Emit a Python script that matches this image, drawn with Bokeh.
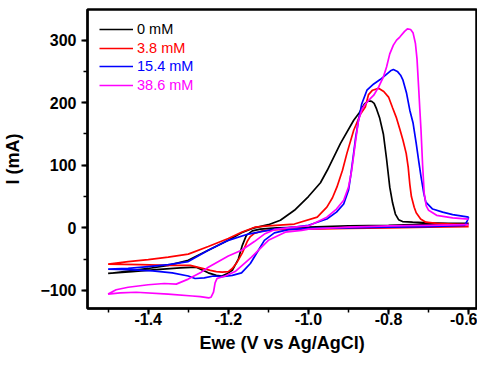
from bokeh.plotting import figure
from bokeh.models import (Range1d, SingleIntervalTicker, Legend, LegendItem, PrintfTickFormatter)
from bokeh.embed import file_html
from bokeh.resources import INLINE

# ---- data ----
# 0 mM
v_0mM = [-0.600, -0.700, -0.800, -0.900, -1.000, -1.080, -1.120, -1.140, -1.155, -1.165, -1.175,
         -1.190, -1.205, -1.216, -1.230, -1.250, -1.280, -1.320, -1.380, -1.440, -1.500,
         -1.450, -1.400, -1.350, -1.300, -1.250, -1.200, -1.167, -1.140, -1.100, -1.070, -1.035,
         -1.000, -0.970, -0.953, -0.920, -0.887, -0.873, -0.860, -0.850, -0.842, -0.836, -0.830,
         -0.822, -0.813, -0.805, -0.797, -0.790, -0.783, -0.775, -0.765, -0.740, -0.700, -0.650, -0.600]
i_0mM = [7, 6, 4, 3, 1, 0, -2, -5, -12, -28, -50,
         -68, -74, -77, -76, -72, -63, -64, -67, -70, -73,
         -69, -65, -60, -52, -36, -20, -8, -1, 5, 12, 28,
         50, 72, 92, 135, 172, 184, 198, 203, 202, 199, 190,
         175, 150, 110, 65, 40, 22, 13, 10, 9, 8, 7, 7]

# 3.8 mM
v_38mM = [-0.600, -0.700, -0.800, -0.900, -1.000, -1.080, -1.115, -1.135, -1.145, -1.153, -1.165,
          -1.178, -1.190, -1.200, -1.215, -1.230, -1.245, -1.270, -1.295, -1.350, -1.420, -1.500,
          -1.450, -1.400, -1.350, -1.300, -1.250, -1.200, -1.167, -1.134, -1.100, -1.035, -0.978,
          -0.954, -0.940, -0.929, -0.915, -0.904, -0.887, -0.870, -0.858, -0.850, -0.840, -0.825,
          -0.812, -0.800, -0.790, -0.781, -0.772, -0.764, -0.756, -0.751, -0.747, -0.743, -0.736,
          -0.731, -0.720, -0.707, -0.680, -0.640, -0.600]
i_38mM = [2, 1, 0, -1, -2, -3, -5, -9, -14, -22, -40,
          -55, -65, -70, -71, -70, -68, -64, -60, -60, -59, -58,
          -54, -51, -47, -42, -30, -17, -7, 1, 3, 6, 17,
          33, 48, 65, 92, 119, 156, 182, 193, 213, 220, 223,
          218, 209, 192, 177, 158, 140, 119, 97, 70, 50, 33,
          24, 14, 9, 7, 6, 5]

# 15.4 mM
v_154mM = [-0.600, -0.603, -0.610, -0.700, -0.800, -0.900, -1.000, -1.050, -1.085, -1.110, -1.126,
           -1.145, -1.167, -1.190, -1.216, -1.237, -1.260, -1.283, -1.300, -1.340, -1.389, -1.450, -1.500,
           -1.450, -1.400, -1.350, -1.300, -1.250, -1.200, -1.150, -1.085, -1.035, -1.000, -0.954,
           -0.930, -0.912, -0.900, -0.895, -0.888, -0.882, -0.875, -0.867, -0.854, -0.837, -0.821,
           -0.806, -0.795, -0.788, -0.778, -0.770, -0.764, -0.755, -0.747, -0.739, -0.731, -0.725,
           -0.719, -0.712, -0.707, -0.690, -0.665, -0.640, -0.600]
i_154mM = [17, 12, 4, 2, 1, 0, -1, -3, -8, -20, -37,
           -57, -72, -76, -78, -77, -80, -81, -77, -72, -69, -67, -66,
           -65, -62, -59, -54, -36, -20, -10, -2, 1, 4, 14,
           25, 38, 60, 81, 115, 145, 172, 198, 220, 230, 237,
           245, 251, 253, 250, 244, 236, 215, 188, 168, 135, 108,
           82, 55, 41, 30, 25, 21, 17]

# 38.6 mM
v_386mM = [-0.600, -0.700, -0.800, -0.900, -1.000, -1.017, -1.058, -1.100, -1.142, -1.183, -1.208,
           -1.228, -1.233, -1.237, -1.243, -1.249, -1.270, -1.290, -1.350, -1.430, -1.470, -1.500,
           -1.480, -1.450, -1.400, -1.360, -1.330, -1.300, -1.270, -1.250, -1.200, -1.167, -1.135,
           -1.110, -1.085, -1.035, -1.000, -0.954, -0.930, -0.912, -0.900, -0.892, -0.882, -0.875,
           -0.866, -0.858, -0.845, -0.837, -0.825, -0.813, -0.805, -0.797, -0.788, -0.780, -0.772,
           -0.760, -0.753, -0.745, -0.739, -0.733, -0.729, -0.725, -0.722, -0.719, -0.715, -0.711,
           -0.706, -0.700, -0.680, -0.640, -0.600]
i_386mM = [5, 4, 3, 1, -2, -4, -7, -20, -47, -70, -77,
           -81, -88, -103, -111, -112, -110, -109, -106, -103, -104, -106,
           -99, -95, -91, -89, -90, -82, -72, -63, -45, -36, -22,
           -10, -3, 1, 3, 17, 30, 44, 65, 92, 140, 172,
           190, 198, 207, 212, 225, 241, 257, 278, 292, 300, 305,
           314, 318, 317, 312, 295, 270, 225, 190, 156, 100, 55,
           35, 28, 20, 16, 14]

labels = ["0 mM", "3.8 mM", "15.4 mM", "38.6 mM"]
colors = ["#000000", "#ff0000", "#0000ff", "#ff00ff"]
series = [(v_0mM, i_0mM), (v_38mM, i_38mM), (v_154mM, i_154mM), (v_386mM, i_386mM)]

x_start, x_end = -1.5515, -0.578
y_start, y_end = -129, 349

FONT = "Liberation Sans"

p = figure(width=477, height=355, output_backend="svg", toolbar_location=None,
           x_range=Range1d(x_start, x_end), y_range=Range1d(y_start, y_end),
           min_border_left=83, min_border_right=0, min_border_top=9, min_border_bottom=46)
# frame outline supplies the thick top border of the original
p.outline_line_color = "black"
p.outline_line_width = 2.5
p.background_fill_color = "white"
p.border_fill_color = "white"
p.xgrid.grid_line_color = None
p.ygrid.grid_line_color = None

renderers = []
for (vx, iy), c in zip(series, colors):
    r = p.line(vx, iy, line_color=c, line_width=1.7)
    renderers.append(r)

p.xaxis.ticker = SingleIntervalTicker(interval=0.2, num_minor_ticks=2)
p.yaxis.ticker = SingleIntervalTicker(interval=100, num_minor_ticks=2)
p.xaxis.formatter = PrintfTickFormatter(format="%.1f")

for ax in (p.xaxis[0], p.yaxis[0]):
    ax.axis_line_width = 2
    ax.major_tick_line_width = 2
    ax.minor_tick_line_width = 1.5
    ax.major_tick_in = 0
    ax.major_tick_out = 6
    ax.minor_tick_in = 0
    ax.minor_tick_out = 4
    ax.major_label_text_font = FONT
    ax.major_label_text_font_style = "bold"
    ax.major_label_text_font_size = "16px"
    ax.major_label_text_color = "black"
    ax.axis_label_text_font = FONT
    ax.axis_label_text_font_style = "bold"
    ax.axis_label_text_font_size = "18px"
    ax.axis_label_text_color = "black"

p.xaxis.axis_label = "Ewe (V vs Ag/AgCl)"
p.yaxis.axis_label = "I (mA)"
p.xaxis.major_label_standoff = -2
p.xaxis.axis_label_standoff = 5
p.yaxis.major_label_standoff = 5
p.yaxis.axis_label_standoff = 14

ys = [270, 251, 233, 214]
for lab, c, r, yy in zip(labels, colors, renderers, ys):
    lg = Legend(items=[LegendItem(label=lab, renderers=[r])], location=(12, yy),
                glyph_width=34, glyph_height=18, label_height=18, label_standoff=4,
                padding=0, margin=0, spacing=0,
                border_line_color=None, background_fill_alpha=0,
                label_text_font=FONT, label_text_font_size="14.5px", label_text_color=c)
    p.add_layout(lg)

open("out.html", "w").write(file_html(p, INLINE))
